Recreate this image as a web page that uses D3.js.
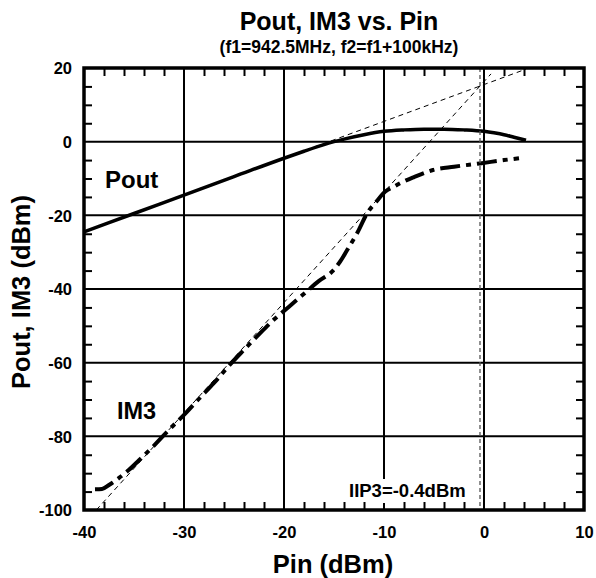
<!DOCTYPE html>
<html><head><meta charset="utf-8">
<script src="https://cdn.jsdelivr.net/npm/d3@7"></script>
<style>
body{margin:0;background:#fff}
text{font-family:"Liberation Sans",Arial,Helvetica,sans-serif;font-weight:bold;fill:#000}
</style>
</head><body>
<svg id="chart" width="596" height="578"></svg>
<script>
// ---- data ----
const xTicks = [-40, -30, -20, -10, 0, 10];
const yTicks = [20, 0, -20, -40, -60, -80, -100];
const xGrid = [-30, -20, -10, 0];
const yGrid = [0, -20, -40, -60, -80];
const xMinor = [-38, -36, -34, -32, -28, -26, -24, -22, -18, -16, -14, -12, -8, -6, -4, -2, 2, 4, 6, 8];
const yMinor = [15, 10, 5, -5, -10, -15, -25, -30, -35, -45, -50, -55, -65, -70, -75, -85, -90, -95];

const poutPin = [-40, -35, -30, -25, -20, -18, -16, -15, -14, -12, -10, -8, -6, -4, -2, 0, 1, 2, 3, 4.2];
const poutVal = [-24.5, -19.5, -14.5, -9.5, -4.5, -2.6, -0.8, 0.0, 0.7, 1.9, 2.8, 3.2, 3.4, 3.4, 3.2, 2.8, 2.4, 1.9, 1.2, 0.4];

const im3Pin = [-38.9, -38.2, -37.5, -36.5, -35.5, -34.5, -33, -31.5, -30, -28.5, -27, -25.5, -24, -22.5, -21, -19.5, -18, -16.5, -15.2, -14.4, -13.5, -12.6, -11.7, -10.8, -9.9, -9, -8.4, -7, -5.1, -3, -0.4, 2, 3.5];
const im3Val = [-94.4, -94.3, -93.2, -91.3, -89.1, -86.5, -82.5, -78.2, -74.2, -69.8, -65.5, -60.8, -56.5, -52.3, -48.3, -44.8, -41.3, -37.8, -35.3, -32.6, -28.6, -24.4, -19.5, -16.4, -13.6, -12.2, -11.3, -9.6, -7.7, -6.8, -5.9, -5.0, -4.5];

const poutExtrapPin = [-17, 4.2];
const poutExtrapVal = [-1.5, 19.7];
const im3ExtrapPin = [-38.77, 0.7];
const im3ExtrapVal = [-100, 18.4];
const iip3 = -0.4;

// ---- layout ----
const svg = d3.select("#chart");
const L = 84, R = 584, T = 68, B = 510;
const xs = d3.scaleLinear().domain([-40, 10]).range([L, R]);
const ys = d3.scaleLinear().domain([-100, 20]).range([B, T]);

// title
svg.append("text").attr("x", 339).attr("y", 29.5).attr("text-anchor", "middle")
  .style("font-size", "25px").text("Pout, IM3 vs. Pin");
svg.append("text").attr("x", 339).attr("y", 52.5).attr("text-anchor", "middle")
  .style("font-size", "17.5px").text("(f1=942.5MHz, f2=f1+100kHz)");

// gridlines
const grid = svg.append("g");
grid.selectAll("line.vg").data(xGrid).enter().append("line").attr("class", "vg")
  .attr("x1", d => xs(d)).attr("x2", d => xs(d)).attr("y1", T).attr("y2", B)
  .attr("stroke", "#000").attr("stroke-width", 2);
grid.selectAll("line.hg").data(yGrid).enter().append("line").attr("class", "hg")
  .attr("y1", d => ys(d)).attr("y2", d => ys(d)).attr("x1", L).attr("x2", R)
  .attr("stroke", "#000").attr("stroke-width", 2);

// extrapolation lines
const line = d3.line().x(d => xs(d[0])).y(d => ys(d[1]));
svg.append("path").datum(d3.zip(poutExtrapPin, poutExtrapVal)).attr("d", line)
  .attr("fill", "none").attr("stroke", "#000").attr("stroke-width", 1).attr("stroke-dasharray", "5,4");
svg.append("path").datum(d3.zip(im3ExtrapPin, im3ExtrapVal)).attr("d", line)
  .attr("fill", "none").attr("stroke", "#000").attr("stroke-width", 1).attr("stroke-dasharray", "5,4");

// curves
const curve = d3.line().x(d => xs(d[0])).y(d => ys(d[1])).curve(d3.curveMonotoneX);
svg.append("path").datum(d3.zip(poutPin, poutVal)).attr("d", curve)
  .attr("fill", "none").attr("stroke", "#000").attr("stroke-width", 3.5);
svg.append("path").datum(d3.zip(im3Pin, im3Val)).attr("d", curve)
  .attr("fill", "none").attr("stroke", "#000").attr("stroke-width", 4)
  .attr("stroke-dasharray", "20,6,5,6");

// IIP3 vertical line
svg.append("line").attr("x1", xs(iip3)).attr("x2", xs(iip3)).attr("y1", T).attr("y2", B)
  .attr("stroke", "#555").attr("stroke-width", 1.3).attr("stroke-dasharray", "4,3");

// IIP3 label with white background
svg.append("rect").attr("x", 345).attr("y", 479).attr("width", 125).attr("height", 24).attr("fill", "#fff");
svg.append("text").attr("x", 349).attr("y", 496.5).style("font-size", "18.5px").text("IIP3=-0.4dBm");

// series labels
svg.append("text").attr("x", 105).attr("y", 187.5).style("font-size", "24px").text("Pout");
svg.append("text").attr("x", 117).attr("y", 419).style("font-size", "23.5px").text("IM3");

// frame
svg.append("rect").attr("x", L).attr("y", T).attr("width", R - L).attr("height", B - T)
  .attr("fill", "none").attr("stroke", "#000").attr("stroke-width", 3.5);

// minor ticks via axes (pointing inward)
const tl = 8;
function minorAxis(axis, tr) {
  const a = svg.append("g").attr("transform", tr).call(axis);
  a.select(".domain").remove();
  a.selectAll(".tick line").attr("stroke", "#000").attr("stroke-width", 2);
  a.selectAll(".tick text").remove();
}
minorAxis(d3.axisTop(xs).tickValues(xMinor).tickSize(-tl), `translate(0,${T})`);
minorAxis(d3.axisBottom(xs).tickValues(xMinor).tickSize(-tl), `translate(0,${B})`);
minorAxis(d3.axisLeft(ys).tickValues(yMinor).tickSize(-tl), `translate(${L},0)`);
minorAxis(d3.axisRight(ys).tickValues(yMinor).tickSize(-tl), `translate(${R},0)`);

// axes (labels)
const fmt = d => String(d);
const xAxis = svg.append("g").attr("transform", `translate(0,${B})`)
  .call(d3.axisBottom(xs).tickValues(xTicks).tickSize(0).tickPadding(0).tickFormat(fmt));
xAxis.select(".domain").remove();
xAxis.selectAll("text").attr("y", 28).attr("dy", 0).style("font-size", "16.5px")
  .style("font-family", '"Liberation Sans",Arial,sans-serif').style("font-weight", "bold");

const yAxis = svg.append("g").attr("transform", `translate(${L},0)`)
  .call(d3.axisLeft(ys).tickValues(yTicks).tickSize(0).tickPadding(0).tickFormat(fmt));
yAxis.select(".domain").remove();
yAxis.selectAll("text").attr("x", -12).attr("dy", "0.36em").style("font-size", "16.5px")
  .style("font-family", '"Liberation Sans",Arial,sans-serif').style("font-weight", "bold");

// axis titles
svg.append("text").attr("x", 333).attr("y", 573).attr("text-anchor", "middle")
  .style("font-size", "25.5px").text("Pin (dBm)");
svg.append("text").attr("transform", "translate(30,292) rotate(-90)").attr("text-anchor", "middle")
  .style("font-size", "25.5px").text("Pout, IM3 (dBm)");
</script>
</body></html>
